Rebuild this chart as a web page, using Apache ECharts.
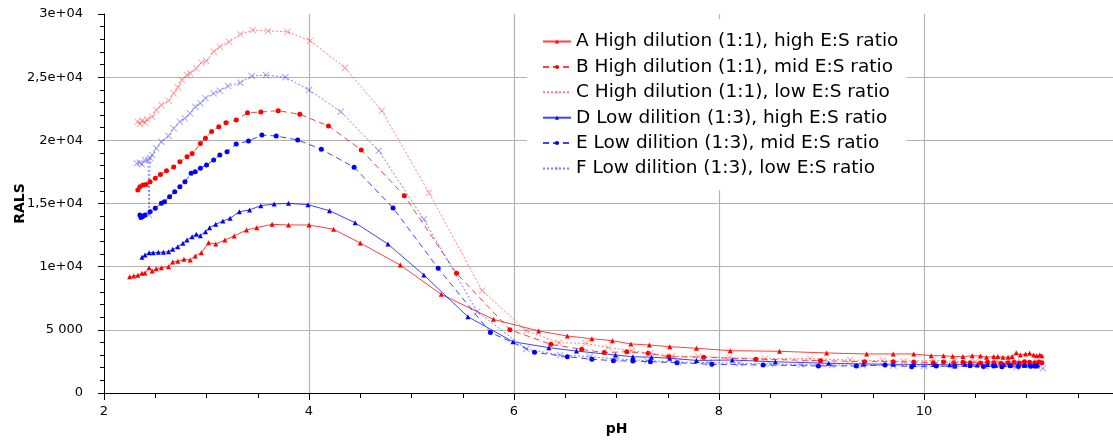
<!DOCTYPE html>
<html>
<head>
<meta charset="utf-8">
<script src="https://cdn.jsdelivr.net/npm/echarts@6/dist/echarts.min.js"></script>
<style>
html,body{margin:0;padding:0;background:#fff;}
#chart{width:1113px;height:441px;}
</style>
</head>
<body>
<div id="chart"></div>
<script>
// ---- Data: [pH, RALS] ----
const seriesNames = [
  'A High dilution (1:1), high E:S ratio',
  'B High dilution (1:1), mid E:S ratio',
  'C High dilution (1:1), low E:S ratio',
  'D Low dilition (1:3), high E:S ratio',
  'E Low dilition (1:3), mid E:S ratio',
  'F Low dilition (1:3), low E:S ratio'
];

const dataA = [[2.25,9210],[2.29,9260],[2.33,9320],[2.37,9480],[2.40,9500],[2.44,9920],[2.47,9660],[2.51,9840],[2.56,9920],[2.63,10000],[2.67,10370],[2.72,10430],[2.78,10580],[2.84,10530],[2.89,10850],[2.95,11110],[3.02,11900],[3.09,11790],[3.18,12110],[3.27,12430],[3.39,12900],[3.49,13090],[3.64,13350],[3.80,13300],[4.00,13300],[4.24,12960],[4.50,11870],[4.89,10130],[5.29,7810],[5.80,5830],[6.24,4910],[6.52,4510],[6.76,4300],[6.96,4140],[7.14,3880],[7.32,3800],[7.52,3670],[7.78,3540],[8.11,3350],[8.59,3300],[9.05,3170],[9.44,3090],[9.70,3090],[9.90,3090],[10.07,2950],[10.19,2950],[10.28,2900],[10.38,2880],[10.47,2950],[10.55,2930],[10.61,2830],[10.68,2880],[10.72,2880],[10.77,2830],[10.82,2830],[10.86,2880],[10.90,3190],[10.94,3010],[10.99,3090],[11.03,3140],[11.07,3010],[11.10,2950],[11.13,3010],[11.15,2950]];

const dataB = [[2.33,16070],[2.35,16330],[2.38,16460],[2.41,16500],[2.45,16730],[2.50,17000],[2.55,17300],[2.61,17600],[2.68,17880],[2.74,18300],[2.81,18700],[2.86,18950],[2.94,19740],[2.99,20160],[3.05,20690],[3.12,21080],[3.19,21400],[3.29,21610],[3.40,22190],[3.53,22240],[3.70,22350],[3.91,22060],[4.19,21140],[4.51,19240],[4.93,15620],[5.44,9470],[5.96,5010],[6.36,3850],[6.66,3460],[6.88,3200],[7.10,3270],[7.31,3140],[7.51,2870],[7.85,2830],[8.36,2680],[8.99,2560],[9.42,2480],[9.70,2480],[9.90,2450],[10.09,2400],[10.19,2450],[10.29,2400],[10.38,2430],[10.45,2400],[10.55,2380],[10.62,2430],[10.68,2400],[10.75,2350],[10.82,2400],[10.88,2430],[10.93,2380],[10.98,2480],[11.03,2430],[11.08,2400],[11.12,2450],[11.15,2400]];

const dataC = [[2.33,21480],[2.35,21300],[2.37,21550],[2.40,21400],[2.42,21670],[2.47,21870],[2.51,22400],[2.56,22800],[2.63,23140],[2.68,23720],[2.72,24200],[2.76,24780],[2.81,25170],[2.84,25310],[2.90,25700],[2.95,26150],[3.00,26280],[3.07,27020],[3.13,27410],[3.22,27810],[3.33,28390],[3.45,28730],[3.60,28660],[3.79,28600],[4.01,27890],[4.35,25750],[4.71,22350],[5.17,15860],[5.69,8100],[6.12,4930],[6.44,3980],[6.70,3930],[6.92,3590],[7.15,3350],[7.33,3140],[7.54,2930],[7.80,2880],[8.10,2800],[8.45,2720],[8.89,2720],[9.28,2610],[9.60,2560],[9.80,2510],[10.09,2560],[10.30,2510],[10.50,2480],[10.70,2510],[10.90,2450],[11.10,2480]];

const dataD = [[2.37,10740],[2.40,10920],[2.44,11110],[2.48,11110],[2.53,11140],[2.58,11140],[2.63,11190],[2.67,11370],[2.72,11580],[2.77,11850],[2.81,12110],[2.86,12370],[2.90,12560],[2.94,12450],[2.99,12770],[3.03,13090],[3.09,13350],[3.16,13610],[3.23,13830],[3.32,14350],[3.42,14490],[3.53,14830],[3.66,14960],[3.80,15010],[3.99,14910],[4.20,14430],[4.45,13480],[4.77,11790],[5.12,9340],[5.55,6040],[5.99,4060],[6.34,3590],[6.61,3320],[6.99,3010],[7.16,2870],[7.34,2830],[7.52,2750],[7.78,2580],[8.13,2610],[8.55,2470],[9.07,2350],[9.41,2300],[9.70,2270],[9.90,2270],[10.10,2250],[10.25,2230],[10.40,2270],[10.52,2220],[10.62,2250],[10.70,2200],[10.78,2250],[10.85,2220],[10.92,2280],[10.98,2220],[11.03,2250],[11.08,2200],[11.11,2230]];

const dataE = [[2.35,14090],[2.36,13900],[2.37,13960],[2.38,14000],[2.40,14090],[2.45,14350],[2.50,14620],[2.56,15020],[2.59,15140],[2.64,15540],[2.69,15930],[2.74,16330],[2.79,16730],[2.85,17390],[2.89,17520],[2.94,17790],[3.00,18050],[3.07,18440],[3.13,18840],[3.20,19100],[3.29,19700],[3.41,19950],[3.54,20420],[3.68,20340],[3.89,20030],[4.12,19290],[4.44,17870],[4.82,14650],[5.26,9870],[5.77,4790],[6.20,3220],[6.52,2870],[6.76,2670],[6.97,2560],[7.16,2530],[7.33,2480],[7.59,2400],[7.93,2270],[8.43,2220],[8.97,2140],[9.34,2140],[9.62,2220],[9.88,2080],[10.12,2140],[10.30,2120],[10.45,2160],[10.58,2100],[10.68,2140],[10.76,2080],[10.84,2150],[10.92,2100],[10.98,2170],[11.04,2110],[11.08,2140],[11.10,2140]];

const dataF = [[2.32,18180],[2.35,18230],[2.37,18100],[2.40,18440],[2.43,18440],[2.44,14100],[2.45,18600],[2.47,18840],[2.51,19370],[2.56,19890],[2.63,20340],[2.68,20950],[2.74,21480],[2.79,21740],[2.84,22140],[2.89,22660],[2.94,22930],[2.99,23330],[3.07,23720],[3.13,23930],[3.21,24300],[3.33,24560],[3.44,25090],[3.58,25170],[3.77,24990],[4.00,23990],[4.31,22270],[4.68,19180],[5.12,13750],[5.64,6440],[6.12,3480],[6.45,3010],[6.74,2870],[7.00,2700],[7.30,2560],[7.60,2450],[7.90,2400],[8.20,2350],[8.50,2300],[8.80,2250],[9.10,2220],[9.40,2200],[9.70,2170],[10.00,2140],[10.30,2120],[10.60,2100],[10.90,2060],[11.16,1950]];

const yTickLabels = ['0', '5 000', '1e+04', '1,5e+04', '2e+04', '2,5e+04', '3e+04'];
const xTickLabels = ['2', '4', '6', '8', '10'];

// ---- Chart ----
const FONT = 'DejaVu Sans';
const X_SYMBOL = 'path://M0,1L1,0L5,4L9,0L10,1L6,5L10,9L9,10L5,6L1,10L0,9L4,5Z';

function mk(name, data, color, lineColor, type, symbol, size) {
  return {
    name: name, type: 'line', data: data,
    symbol: symbol, symbolSize: size, showSymbol: true,
    itemStyle: { color: color },
    lineStyle: { color: lineColor, width: 1, type: type },
    emphasis: { disabled: true },
    animation: false, z: 3
  };
}

const chart = echarts.init(document.getElementById('chart'), null, { renderer: 'canvas' });
chart.setOption({
  backgroundColor: '#fff',
  animation: false,
  grid: { left: 104, width: 1025, top: 14, height: 379, containLabel: false, outerBoundsMode: 'none' },
  xAxis: {
    type: 'value', min: 2, max: 12, interval: 2,
    name: 'pH', nameLocation: 'middle', nameGap: 29, nameMoveOverlap: false,
    nameTextStyle: { fontFamily: FONT, fontSize: 14, fontWeight: 'bold', color: '#000' },
    axisLine: { show: true, onZero: false, lineStyle: { color: '#000', width: 1 } },
    axisTick: { show: true, length: 7, lineStyle: { color: '#000' } },
    minorTick: { show: true, splitNumber: 4, length: 5, lineStyle: { color: '#000' } },
    axisLabel: {
      fontFamily: FONT, fontSize: 13, color: '#000', margin: 12,
      formatter: function (v) { const i = Math.round((v - 2) / 2); return xTickLabels[i] !== undefined ? xTickLabels[i] : ''; }
    },
    splitLine: { show: true, showMinLine: false, lineStyle: { color: '#b4b4b4', width: 1.2 } }
  },
  yAxis: {
    type: 'value', min: 0, max: 30000, interval: 5000,
    name: 'RALS', nameLocation: 'middle', nameGap: 77, nameRotate: 90, nameMoveOverlap: false,
    nameTextStyle: { fontFamily: FONT, fontSize: 14, fontWeight: 'bold', color: '#000' },
    axisLine: { show: true, lineStyle: { color: '#000', width: 1 } },
    axisTick: { show: true, length: 6, lineStyle: { color: '#000' } },
    minorTick: { show: true, splitNumber: 5, length: 4, lineStyle: { color: '#000' } },
    axisLabel: {
      fontFamily: FONT, fontSize: 13, color: '#000', margin: 21,
      formatter: function (v) { return yTickLabels[Math.round(v / 5000)]; }
    },
    splitLine: { show: true, showMinLine: false, showMaxLine: false, lineStyle: { color: '#b4b4b4', width: 1.2 } }
  },
  legend: {
    orient: 'vertical', left: 527, top: 19,
    padding: [13, 8, 12, 15],
    backgroundColor: '#fff',
    itemWidth: 28, itemHeight: 5, itemGap: 6.4,
    textStyle: { fontFamily: FONT, fontSize: 18.5, color: '#000', lineHeight: 19 },
    data: seriesNames,
    z: 10
  },
  series: [
    mk(seriesNames[0], dataA, '#ff0000', 'rgba(255,0,0,0.75)', 'solid', 'triangle', 5),
    mk(seriesNames[1], dataB, '#ff0000', 'rgba(255,0,0,0.75)', [6, 4], 'circle', 5),
    mk(seriesNames[2], dataC, 'rgba(255,60,60,0.45)', 'rgba(255,40,40,0.6)', [2, 2], X_SYMBOL, 7),
    mk(seriesNames[3], dataD, '#0000ff', 'rgba(0,0,255,0.75)', 'solid', 'triangle', 5),
    mk(seriesNames[4], dataE, '#0000ff', 'rgba(0,0,255,0.75)', [6, 4], 'circle', 5),
    mk(seriesNames[5], dataF, 'rgba(60,60,255,0.45)', 'rgba(40,40,255,0.6)', [2, 2], X_SYMBOL, 7)
  ]
});
</script>
</body>
</html>
